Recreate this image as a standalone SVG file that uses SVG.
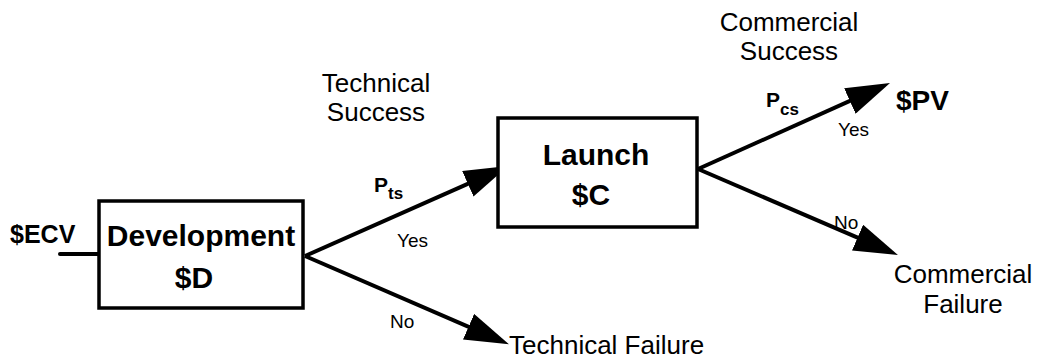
<svg xmlns="http://www.w3.org/2000/svg" width="1042" height="360" viewBox="0 0 1042 360">
  <style>
    .box { fill: #fff; stroke: #000; stroke-width: 3.5; }
    .link { fill: none; stroke: #000; stroke-width: 4; }
    .title { font-family: "Liberation Sans", Arial, sans-serif; font-weight: bold; font-size: 30px; fill: #000; text-anchor: middle; }
    .val { font-family: "Liberation Sans", Arial, sans-serif; font-weight: bold; font-size: 25px; fill: #000; }
    .lbl { font-family: "Liberation Sans", Arial, sans-serif; font-size: 26px; fill: #000; }
    .small { font-family: "Liberation Sans", Arial, sans-serif; font-size: 19px; fill: #000; }
    .prob { font-family: "Liberation Sans", Arial, sans-serif; font-weight: bold; font-size: 21px; fill: #000; }
    .sub { font-size: 17px; }
  </style>
  <defs>
    <marker id="head" viewBox="0 0 44 28" refX="19" refY="14" markerWidth="44" markerHeight="28" markerUnits="userSpaceOnUse" orient="auto">
      <path d="M0,0 L44,14 L0,28 Z" fill="#000"/>
    </marker>
  </defs>

  <!-- connectors -->
  <g id="connectors">
    <line class="link" x1="60" y1="254" x2="99" y2="254" stroke-linecap="round"/>
    <line class="link" x1="305" y1="256" x2="485.2" y2="176.1" marker-end="url(#head)"/>
    <line class="link" x1="305" y1="256" x2="486.0" y2="334.3" marker-end="url(#head)"/>
    <line class="link" x1="698" y1="169" x2="867.2" y2="93.2" marker-end="url(#head)"/>
    <line class="link" x1="698" y1="169" x2="875.0" y2="245.1" marker-end="url(#head)"/>
  </g>

  <!-- development stage -->
  <g id="development">
    <rect class="box" x="99" y="201" width="204" height="107"/>
    <text class="title" x="201" y="246">Development</text>
    <text class="title" x="194" y="288">$D</text>
  </g>

  <!-- launch stage -->
  <g id="launch">
    <rect class="box" x="498" y="118" width="199" height="109"/>
    <text class="title" x="596" y="165">Launch</text>
    <text class="title" x="591" y="205">$C</text>
  </g>

  <!-- entry value -->
  <g id="ecv">
    <text class="val" x="10" y="243">$ECV</text>
  </g>

  <!-- outcomes -->
  <g id="technical-success">
    <text class="lbl" x="376" y="92" text-anchor="middle">Technical</text>
    <text class="lbl" x="376" y="121" text-anchor="middle">Success</text>
  </g>
  <g id="technical-failure">
    <text class="lbl" x="509" y="354">Technical Failure</text>
  </g>
  <g id="commercial-success">
    <text class="lbl" x="789" y="31" text-anchor="middle">Commercial</text>
    <text class="lbl" x="789" y="60" text-anchor="middle">Success</text>
  </g>
  <g id="pv">
    <text class="val" x="896" y="110" style="font-size:28px">$PV</text>
  </g>
  <g id="commercial-failure">
    <text class="lbl" x="963" y="283" text-anchor="middle">Commercial</text>
    <text class="lbl" x="963" y="313" text-anchor="middle">Failure</text>
  </g>

  <!-- branch labels -->
  <g id="branch-labels">
    <text class="prob" x="374" y="192">P<tspan class="sub" dy="7">ts</tspan></text>
    <text class="small" x="397" y="247">Yes</text>
    <text class="small" x="390" y="328">No</text>
    <text class="prob" x="766" y="107">P<tspan class="sub" dy="8">cs</tspan></text>
    <text class="small" x="838" y="136">Yes</text>
    <text class="small" x="834" y="229">No</text>
  </g>
</svg>
